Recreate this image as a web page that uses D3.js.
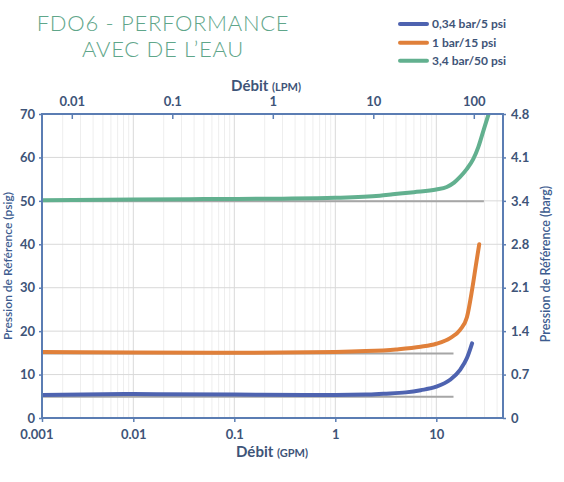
<!DOCTYPE html>
<html><head><meta charset="utf-8">
<script src="https://cdn.jsdelivr.net/npm/d3@7"></script>
<style>
body{margin:0;background:#fff;}
text{font-family:Lato,"Open Sans",sans-serif;}
</style>
</head><body>
<svg id="c" width="564" height="482"></svg>
<script>
// ---------- data ----------
const titleLines = ["FDO6 - PERFORMANCE", "AVEC DE L\u2019EAU"];
const seriesNames = ["0,34 bar/5 psi", "1 bar/15 psi", "3,4 bar/50 psi"];

const blueFlow  = [0.001, 0.01, 0.1, 0.5, 1, 2, 3, 5, 7, 10, 13.7, 17.2, 20.1, 22.6];
const bluePsi   = [5.3, 5.5, 5.4, 5.3, 5.3, 5.4, 5.6, 5.9, 6.4, 7.2, 8.8, 11.1, 13.8, 17.2];

const orangeFlow = [0.001, 0.01, 0.1, 1, 2, 4, 7, 10, 13.7, 17.2, 20.1, 22.6, 24.6, 26.6];
const orangePsi  = [15.2, 15.1, 15.0, 15.2, 15.4, 15.8, 16.4, 17.1, 18.4, 20.3, 23.2, 29.5, 35.0, 40.0];

const greenFlow = [0.001, 0.01, 0.05, 0.3, 1, 2.76, 3.7, 6, 10, 12.7, 15, 17.2, 20, 23.2, 26, 28.1, 31, 33.5];
const greenPsi  = [50.1, 50.3, 50.4, 50.5, 50.7, 51.2, 51.5, 52.0, 52.6, 53.2, 54.2, 55.5, 57.3, 59.6, 62.3, 64.8, 68.0, 70.5];

// reference (set pressure) lines: psi and flow where each ends
const refPsi  = [4.9, 14.85, 49.9];
const refEnd  = [14.8, 14.8, 29.6];

const gpmTicks  = [0.001, 0.01, 0.1, 1, 10];
const lpmTicks  = [0.01, 0.1, 1, 10, 100];
const psiTicks  = [0, 10, 20, 30, 40, 50, 60, 70];
const bargTickLabels = ["0", "0.7", "1.4", "2.1", "2.8", "3.4", "4.1", "4.8"];

// ---------- layout ----------
const L = 42, R = 503, T = 114, B = 418;
const colors = ["#4E63B0", "#E0803A", "#62B08F"];
const axisColor = "#5B7DB3";
const labelColor = "#3E5478";
const titleColor = "#5FA68A";

const svg = d3.select("#c");

const x = d3.scaleLog().domain([0.001, 10]).range([32.3, 436.3]);     // GPM
const xLpm = d3.scaleLog().domain([0.01, 10]).range([71.8, 373.3]);   // LPM (top)
const y = d3.scaleLinear().domain([0, 70]).range([B, T]);
const yBar = d3.scaleLinear().domain([0, 70 * 0.0689476]).range([B, T]);

// clip
svg.append("defs").append("clipPath").attr("id", "plot")
  .append("rect").attr("x", L).attr("y", T).attr("width", R - L).attr("height", B - T);

// ---------- grid ----------
const grid = svg.append("g");
const minor = [];
for (let d = -3; d <= 1; d++) for (let k = 1; k <= 9; k++) {
  const v = k * Math.pow(10, d);
  const px = x(v);
  if (px > L + 1 && px < R - 1) minor.push({v, major: k === 1});
}
grid.selectAll("line.v").data(minor).join("line")
  .attr("x1", d => x(d.v)).attr("x2", d => x(d.v))
  .attr("y1", T).attr("y2", B)
  .attr("stroke", d => d.major ? "#d9d9d9" : "#eeeeee").attr("stroke-width", 1);
grid.selectAll("line.h").data(psiTicks.filter(d => d > 0 && d < 70)).join("line")
  .attr("x1", L).attr("x2", R).attr("y1", d => y(d)).attr("y2", d => y(d))
  .attr("stroke", "#d9d9d9").attr("stroke-width", 1);

// ---------- reference lines ----------
const plot = svg.append("g").attr("clip-path", "url(#plot)");
plot.selectAll("line.ref").data(refPsi).join("line")
  .attr("x1", L).attr("x2", (d, i) => x(refEnd[i]))
  .attr("y1", d => y(d)).attr("y2", d => y(d))
  .attr("stroke", "#a6a6a6").attr("stroke-width", 2);

// ---------- series ----------
const series = [
  {flow: blueFlow, psi: bluePsi},
  {flow: orangeFlow, psi: orangePsi},
  {flow: greenFlow, psi: greenPsi}
];
const line = d3.line().x(d => x(d[0])).y(d => y(d[1])).curve(d3.curveMonotoneX);
plot.selectAll("path.s").data(series).join("path")
  .attr("d", s => line(s.flow.map((f, i) => [f, s.psi[i]])))
  .attr("fill", "none").attr("stroke", (s, i) => colors[i])
  .attr("stroke-width", 4).attr("stroke-linecap", "round").attr("stroke-linejoin", "round");

// ---------- axes ----------
function styleAxis(g) {
  g.select(".domain").remove();
  g.selectAll(".tick line").attr("stroke", axisColor).attr("stroke-width", 1.5);
  g.selectAll(".tick text").attr("fill", labelColor).attr("font-size", 13)
    .attr("font-weight", "bold").attr("font-family", "Lato, 'Open Sans', sans-serif");
}
svg.append("g").attr("transform", `translate(0,${B})`)
  .call(d3.axisBottom(x).tickValues(gpmTicks).tickSize(4).tickPadding(8).tickFormat(d => String(d)))
  .call(styleAxis)
  .call(g => g.selectAll(".tick").filter(d => d === 0.001).select("text").attr("dx", 4))
  .call(g => g.selectAll(".tick").filter(d => d === 0.001).select("line").attr("x1", 9.7).attr("x2", 9.7));
svg.append("g").attr("transform", `translate(0,${T})`)
  .call(d3.axisTop(xLpm).tickValues(lpmTicks).tickSize(-5).tickPadding(8).tickFormat(d => String(d)))
  .call(styleAxis);
svg.append("g").attr("transform", `translate(${L},0)`)
  .call(d3.axisLeft(y).tickValues(psiTicks).tickSize(3).tickPadding(4))
  .call(styleAxis);
svg.append("g").attr("transform", `translate(${R},0)`)
  .call(d3.axisRight(yBar).tickValues(psiTicks.map(p => p * 0.0689476)).tickSize(3).tickPadding(5)
        .tickFormat((d, i) => bargTickLabels[i]))
  .call(styleAxis);

// frame
svg.append("rect").attr("x", L).attr("y", T).attr("width", R - L).attr("height", B - T)
  .attr("fill", "none").attr("stroke", axisColor).attr("stroke-width", 2);

// ---------- titles ----------
const title = svg.append("text").attr("fill", titleColor).attr("font-size", 22)
  .attr("text-anchor", "middle").attr("font-weight", 300).attr("letter-spacing", 0.7);
title.selectAll("tspan").data(titleLines).join("tspan")
  .attr("x", 163).attr("y", (d, i) => 31 + i * 26).text(d => d);

function axisTitle(xp, yp, main, unit, rot) {
  const t = svg.append("text").attr("fill", labelColor).attr("text-anchor", "middle")
    .attr("font-weight", "bold").attr("font-size", 15)
    .attr("transform", `translate(${xp},${yp})` + (rot ? ` rotate(${rot})` : ""));
  t.append("tspan").text(main);
  t.append("tspan").attr("font-size", 11).text(unit);
}
axisTitle(266, 91, "Débit ", " (LPM)", 0);
axisTitle(272, 457, "Débit ", "(GPM)", 0);

svg.append("text").attr("fill", "#3D5C8F").attr("font-size", 12).attr("font-weight", 600)
  .attr("text-anchor", "middle").attr("transform", "translate(12,266) rotate(-90)")
  .text("Pression de Référence (psig)");
svg.append("text").attr("fill", "#3D5C8F").attr("font-size", 12.5).attr("font-weight", 600)
  .attr("text-anchor", "middle").attr("transform", "translate(550,264) rotate(-90)")
  .text("Pression de Référence (barg)");

// ---------- legend ----------
const lg = svg.append("g");
const legY = [24, 42.7, 60.7];
lg.selectAll("line").data(seriesNames).join("line")
  .attr("x1", 400).attr("x2", 427).attr("y1", (d, i) => legY[i]).attr("y2", (d, i) => legY[i])
  .attr("stroke", (d, i) => colors[i]).attr("stroke-width", 4).attr("stroke-linecap", "round");
lg.selectAll("text").data(seriesNames).join("text")
  .attr("x", 432).attr("y", (d, i) => legY[i] + 4.3)
  .attr("fill", labelColor).attr("font-size", 12).attr("font-weight", "bold").text(d => d);
</script>
</body></html>
